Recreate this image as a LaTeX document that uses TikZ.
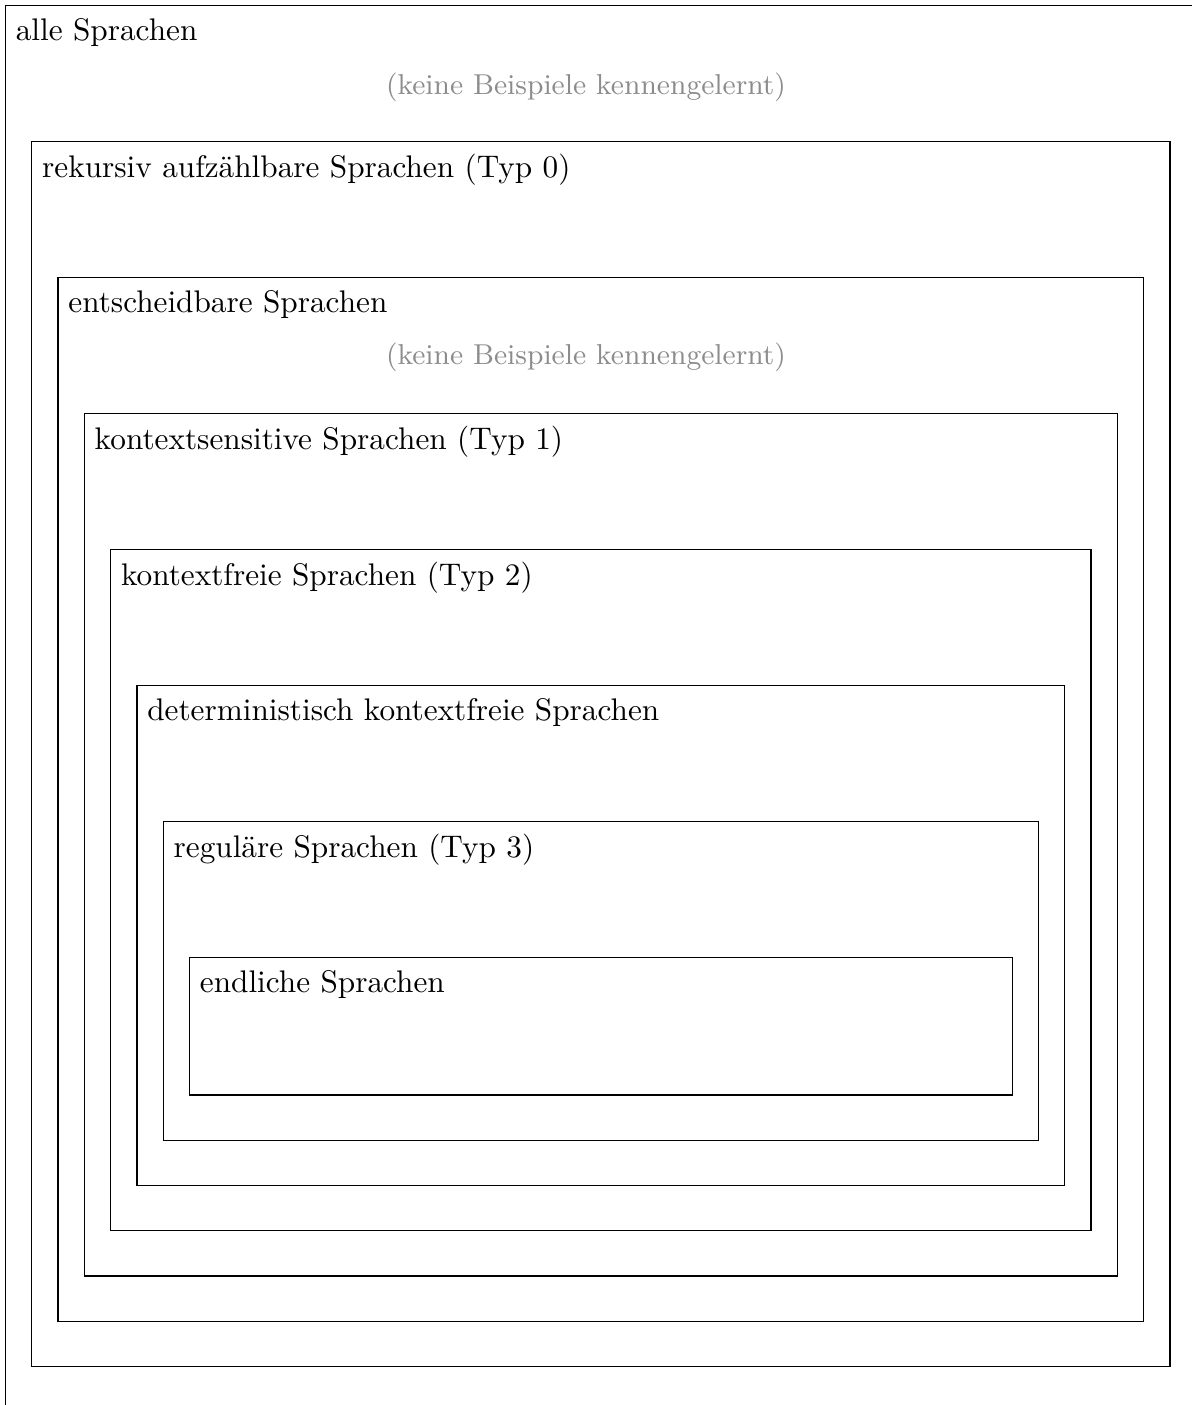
\documentclass[tikz,border=0pt]{standalone}
\usetikzlibrary{fit}
\begin{document}
\begin{tikzpicture}[x=0.32256pt,y=-0.32256pt,
  box/.style={draw=black, inner sep=0pt, line width=0.4pt},
  lbl/.style={anchor=north west, inner xsep=3.33pt, inner ysep=4.1pt, font=\fontsize{10.08}{12}\selectfont},
  note/.style={text=black!45, inner sep=0pt, font=\fontsize{9.28}{11}\selectfont}]
\useasboundingbox (0,0) rectangle (1192,1405);
\node[box, fit={(5.5,5.5) (1196.3,1412)}] (b0) {};
\node[box, fit={(31.8,141.7) (1170,1366.7)}] (b1) {};
\node[box, fit={(58.1,277.7) (1143.7,1321.4)}] (b2) {};
\node[box, fit={(84.4,413.7) (1117.4,1276.1)}] (b3) {};
\node[box, fit={(110.7,549.7) (1091.1,1230.8)}] (b4) {};
\node[box, fit={(137.0,685.7) (1064.8,1185.5)}] (b5) {};
\node[box, fit={(163.3,821.7) (1038.5,1140.2)}] (b6) {};
\node[box, fit={(189.6,957.7) (1012.2,1094.9)}] (b7) {};
\node[lbl] (l0) at (b0.north west) {alle Sprachen};
\node[lbl] (l1) at (b1.north west) {rekursiv aufzählbare Sprachen (Typ 0)};
\node[lbl] (l2) at (b2.north west) {entscheidbare Sprachen};
\node[lbl] (l3) at (b3.north west) {kontextsensitive Sprachen (Typ 1)};
\node[lbl] (l4) at (b4.north west) {kontextfreie Sprachen (Typ 2)};
\node[lbl] (l5) at (b5.north west) {deterministisch kontextfreie Sprachen};
\node[lbl] (l6) at (b6.north west) {reguläre Sprachen (Typ 3)};
\node[lbl] (l7) at (b7.north west) {endliche Sprachen};
\node[note] (n0) at (586,87) {(keine Beispiele kennengelernt)};
\node[note] (n2) at (586,357) {(keine Beispiele kennengelernt)};
\end{tikzpicture}
\end{document}
